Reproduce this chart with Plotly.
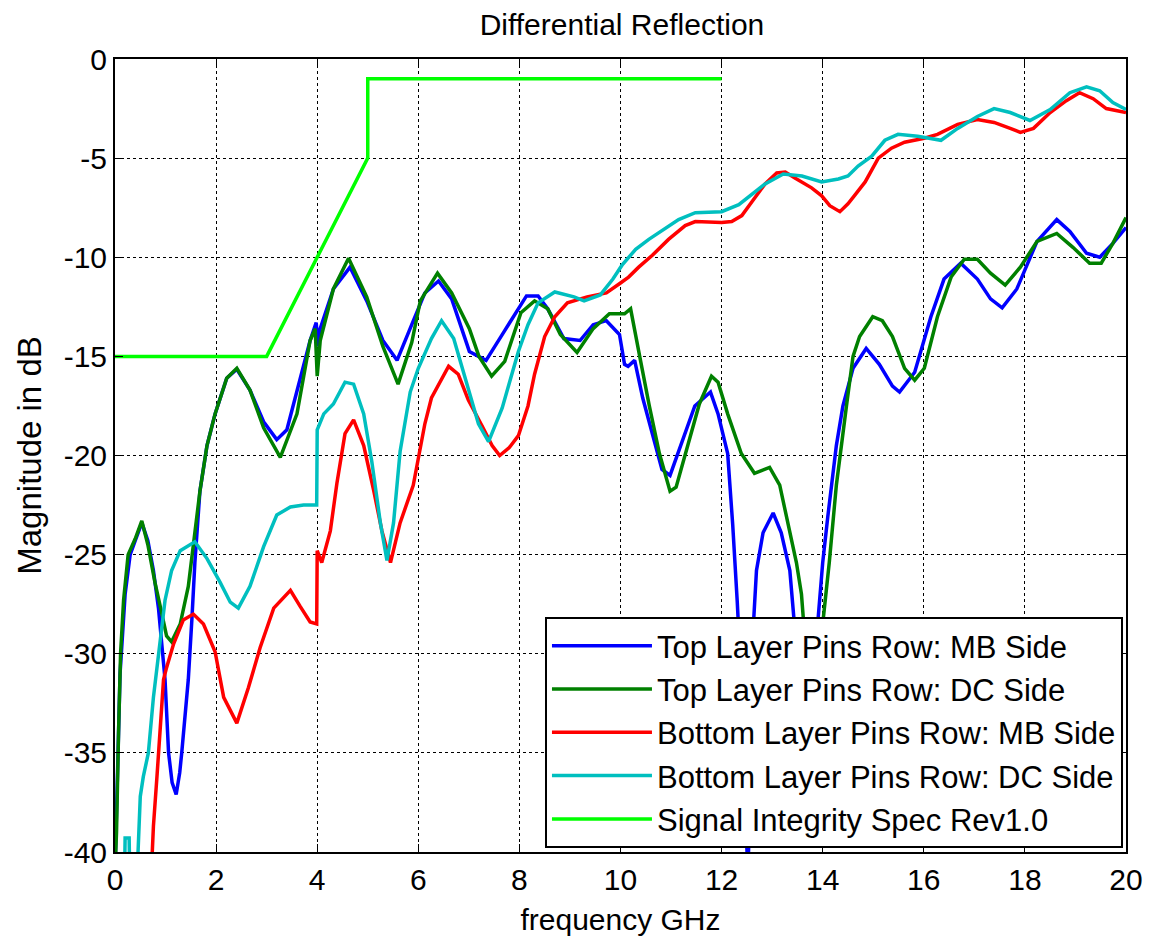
import plotly.graph_objects as go

# ---------------- data ----------------
top_mb_f = [0.0, 0.05, 0.1, 0.2, 0.3, 0.4, 0.53, 0.65, 0.76, 0.86, 0.92, 0.99, 1.06, 1.13, 1.21, 1.28, 1.32,
            1.45, 1.52, 1.58, 1.68, 1.82, 1.98, 2.21, 2.41, 2.67, 2.94, 3.2, 3.4, 3.66, 3.86, 3.98, 4.02,
            4.06, 4.32, 4.65, 4.98, 5.3, 5.58, 5.87, 6.13, 6.4, 6.66, 7.01, 7.34, 7.66, 7.92, 8.14,
            8.37, 8.56, 8.88, 9.2, 9.46, 9.72, 9.98, 10.08, 10.15, 10.28, 10.44, 10.63, 10.82, 10.98,
            11.21, 11.47, 11.78, 11.93, 12.12, 12.22, 12.31, 12.4, 12.47, 12.52, 12.58, 12.63, 12.69,
            12.82, 13.02, 13.18, 13.35, 13.44, 13.55, 13.7, 13.9, 14.0, 14.1, 14.27, 14.4, 14.6, 14.86,
            15.12, 15.38, 15.52, 15.82, 16.14, 16.4, 16.73, 17.06, 17.32, 17.55, 17.84, 18.24, 18.63,
            18.89, 19.22, 19.48, 19.74, 20.0]
top_mb_db = [-41, -36, -31, -27, -25, -24.3, -23.4, -24.3, -25.8, -27.7, -29.3, -31.3, -35, -36.5, -37.1, -36,
             -35, -31.3, -28.3, -25.4, -21.8, -19.5, -17.9, -16.1, -15.65, -16.7, -18.3, -19.2, -18.7, -16.1,
             -14.2, -13.3, -14.5, -13.6, -11.6, -10.5, -12.2, -14.2, -15.2, -13.4, -11.8, -11.2, -12.1, -14.75,
             -15.2, -13.9, -12.8, -11.95, -11.95, -12.6, -14.1, -14.2, -13.4, -13.2, -13.9, -15.4, -15.5,
             -15.2, -17.1, -18.9, -20.7, -21.0, -19.3, -17.5, -16.8, -17.9, -19.9, -23.5, -27.4, -32, -38,
             -41, -36, -28.5, -25.8, -23.9, -22.9, -23.9, -25.8, -28.5, -33, -36, -28.5, -25.4, -23.1, -19.5,
             -17.5, -15.6, -14.6, -15.4, -16.5, -16.8, -15.8, -13.0, -11.1, -10.3, -11.1, -12.1, -12.55,
             -11.6, -9.2, -8.1, -8.7, -9.8, -10.0, -9.3, -8.5]

top_dc_f = [0.0, 0.03, 0.07, 0.11, 0.17, 0.26, 0.4, 0.53, 0.65, 0.79, 0.92, 1.02, 1.12, 1.29, 1.45, 1.55, 1.68,
            1.82, 1.98, 2.21, 2.41, 2.67, 2.94, 3.27, 3.6, 3.86, 3.96, 4.0, 4.06, 4.32, 4.62, 4.98, 5.3, 5.6,
            5.87, 6.04, 6.38, 6.66, 7.01, 7.2, 7.45, 7.71, 8.03, 8.3, 8.56, 8.81, 9.14, 9.46, 9.78, 10.08,
            10.2, 10.38, 10.57, 10.77, 10.98, 11.1, 11.3, 11.56, 11.8, 11.93, 12.12, 12.39, 12.65, 12.95,
            13.15, 13.35, 13.48, 13.58, 13.7, 13.85, 13.95, 14.0, 14.13, 14.27, 14.47, 14.6, 14.73, 14.99,
            15.18, 15.38, 15.62, 15.82, 16.01, 16.27, 16.54, 16.8, 17.06, 17.32, 17.61, 17.91, 18.24,
            18.63, 18.95, 19.28, 19.51, 19.74, 20.0]
top_dc_db = [-41, -39, -34, -30, -27.3, -25, -24.2, -23.3, -24.5, -26.4, -27.9, -29.1, -29.4, -28.5, -26.6,
             -24.6, -21.8, -19.5, -17.9, -16.1, -15.6, -16.7, -18.6, -20.1, -17.9, -14.2, -13.6, -16.0, -14.2,
             -11.6, -10.05, -12.0, -14.5, -16.4, -14.3, -12.2, -10.8, -11.8, -13.6, -15.0, -16.0, -15.25,
             -12.8, -12.2, -12.6, -13.9, -14.8, -13.6, -12.85, -12.85, -12.6, -15.0, -17.5, -19.9, -21.8,
             -21.6, -19.7, -17.4, -16.0, -16.3, -17.9, -19.9, -20.9, -20.6, -21.5, -23.9, -25.4, -27.0, -31,
             -36, -30, -28.5, -25.4, -21.5, -17.5, -15.0, -14.0, -13.0, -13.2, -14.0, -15.6, -16.2, -15.6,
             -13.0, -11.0, -10.1, -10.1, -10.8, -11.4, -10.5, -9.2, -8.8, -9.5, -10.3, -10.3, -9.3, -8.0]

bot_mb_f = [0.72, 0.76, 0.83, 0.89, 0.96, 1.02, 1.16, 1.35, 1.55, 1.75, 1.98, 2.15, 2.41, 2.64, 2.87, 3.14,
            3.47, 3.66, 3.86, 3.99, 4.0, 4.09, 4.26, 4.39, 4.55, 4.72, 4.92, 5.12, 5.28, 5.45, 5.64, 5.9,
            6.13, 6.26, 6.6, 6.79, 6.99, 7.26, 7.46, 7.61, 7.8, 7.98, 8.17, 8.3, 8.5, 8.7, 8.95, 9.34,
            9.72, 10.0, 10.16, 10.36, 10.63, 10.95, 11.28, 11.48, 12.0, 12.2, 12.4, 12.6, 12.86, 13.09, 13.26,
            13.45, 13.78, 13.98, 14.14, 14.34, 14.5, 14.64, 14.84, 15.1, 15.36, 15.62, 16.01, 16.27, 16.67,
            17.06, 17.39, 17.71, 17.91, 18.17, 18.5, 18.82, 19.08, 19.35, 19.61, 19.8, 20.0]
bot_mb_db = [-41, -38.7, -36.2, -34.2, -31.3, -30.7, -29.5, -28.3, -28.0, -28.5, -29.9, -32.2, -33.5, -31.7,
             -29.7, -27.7, -26.8, -27.6, -28.4, -28.5, -24.8, -25.4, -23.8, -21.4, -18.9, -18.2, -19.5, -21.8,
             -23.8, -25.4, -23.4, -21.5, -18.4, -17.1, -15.5, -15.9, -17.2, -18.5, -19.5, -20.0, -19.6, -19.0,
             -17.5, -15.9, -14.0, -13.0, -12.3, -12.0, -11.8, -11.3, -11.0, -10.5, -9.9, -9.1, -8.4, -8.2,
             -8.25, -8.2, -7.9, -7.2, -6.3, -5.75, -5.7, -6.0, -6.5, -6.9, -7.4, -7.7, -7.3, -6.85, -6.2,
             -5.0, -4.5, -4.2, -4.0, -3.8, -3.3, -3.05, -3.2, -3.5, -3.7, -3.5, -2.7, -2.1, -1.7, -2.0, -2.5,
             -2.6, -2.7]

bot_dc_f = [0.19, 0.2, 0.28, 0.29, 0.44, 0.5, 0.56, 0.66, 0.76, 0.89, 0.99, 1.12, 1.29, 1.58, 1.82, 2.08,
            2.28, 2.44, 2.67, 2.94, 3.2, 3.47, 3.73, 3.99, 4.0, 4.13, 4.32, 4.55, 4.72, 4.92, 5.08, 5.25,
            5.38, 5.51, 5.64, 5.84, 6.0, 6.26, 6.46, 6.7, 6.93, 7.19, 7.39, 7.66, 7.98, 8.17, 8.37, 8.7,
            9.08, 9.28, 9.6, 9.85, 10.03, 10.3, 10.56, 10.82, 11.15, 11.48, 12.0, 12.34, 12.6, 12.86,
            13.22, 13.59, 13.98, 14.31, 14.5, 14.7, 14.97, 15.23, 15.49, 15.88, 16.34, 16.67, 17.06, 17.39,
            17.71, 18.1, 18.5, 18.89, 19.22, 19.48, 19.74, 20.0]
bot_dc_db = [-41, -39.3, -39.3, -41, -41, -37.2, -36.2, -35, -32.2, -29.3, -27.3, -25.8, -24.8, -24.35, -25.2,
             -26.4, -27.4, -27.7, -26.6, -24.6, -23.0, -22.6, -22.5, -22.5, -18.7, -17.9, -17.4, -16.3, -16.4,
             -17.9, -20.3, -23.4, -25.3, -23.4, -19.8, -16.8, -15.6, -14.1, -13.2, -14.1, -16.1, -18.4, -19.3,
             -17.6, -14.75, -13.4, -12.3, -11.75, -12.0, -12.2, -11.9, -11.1, -10.4, -9.6, -9.1, -8.65, -8.1,
             -7.75, -7.7, -7.35, -6.85, -6.3, -5.8, -5.9, -6.2, -6.05, -5.9, -5.4, -4.9, -4.1, -3.8, -3.9,
             -4.1, -3.5, -2.9, -2.5, -2.7, -3.1, -2.55, -1.7, -1.4, -1.6, -2.2, -2.55]

spec_f = [0, 3, 5, 5, 12]
spec_db = [-15, -15, -5, -1, -1]

series_names = ["Top Layer Pins Row: MB Side", "Top Layer Pins Row: DC Side",
                "Bottom Layer Pins Row: MB Side", "Bottom Layer Pins Row: DC Side",
                "Signal Integrity Spec Rev1.0"]
x_ticks = [0, 2, 4, 6, 8, 10, 12, 14, 16, 18, 20]
x_tick_labels = ["0", "2", "4", "6", "8", "10", "12", "14", "16", "18", "20"]
y_ticks = [-40, -35, -30, -25, -20, -15, -10, -5, 0]
y_tick_labels = ["-40", "-35", "-30", "-25", "-20", "-15", "-10", "-5", "0"]

# ---------------- figure ----------------
colors = ["#0000FF", "#008000", "#FF0000", "#00BFBF", "#00FF00"]
xs = [top_mb_f, top_dc_f, bot_mb_f, bot_dc_f, spec_f]
ys = [top_mb_db, top_dc_db, bot_mb_db, bot_dc_db, spec_db]

FONT = "Liberation Sans, Arial, Helvetica, sans-serif"

fig = go.Figure()
for i in range(5):
    fig.add_trace(go.Scatter(x=xs[i], y=ys[i], mode="lines", name=series_names[i],
                             legendgroup=str(i),
                             line=dict(color=colors[i], width=3.5)))

axis_common = dict(showline=True, linecolor="black", linewidth=2, mirror="ticks",
                   ticks="inside", ticklen=8, tickwidth=1, tickcolor="black",
                   showgrid=True, gridcolor="black", gridwidth=1, griddash="3px,3px",
                   zeroline=False, ticklabeloverflow="allow",
                   tickfont=dict(family=FONT, size=30, color="black"))

fig.update_layout(
    width=1155, height=943,
    paper_bgcolor="white", plot_bgcolor="white",
    margin=dict(l=115, r=20, t=59, b=81),
    title=dict(text="Differential Reflection", x=0.5385, xanchor="center", y=0.9745, yanchor="middle",
               font=dict(family=FONT, size=30, color="black")),
    xaxis=dict(range=[0, 20], tickvals=x_ticks, ticktext=x_tick_labels,
               title=dict(text="frequency GHz", font=dict(family=FONT, size=30, color="black"), standoff=14),
               **axis_common),
    yaxis=dict(range=[-40, 0], tickvals=y_ticks, ticktext=y_tick_labels,
               title=dict(text="Magnitude in dB", font=dict(family=FONT, size=33, color="black"), standoff=12),
               **axis_common),
    legend=dict(x=0.997, y=0.005, xanchor="right", yanchor="bottom",
                bgcolor="white", bordercolor="black", borderwidth=2,
                font=dict(family=FONT, size=31, color="black"),
                traceorder="grouped", tracegroupgap=0, itemwidth=100),
    showlegend=True,
)

fig.write_html(
    "out.html",
    config={"displayModeBar": False},
    post_script=("document.documentElement.style.margin='0px';"
                 "document.body.style.margin='0px';"
                 "document.documentElement.style.overflow='hidden';"
                 "document.body.style.overflow='hidden';"),
)
